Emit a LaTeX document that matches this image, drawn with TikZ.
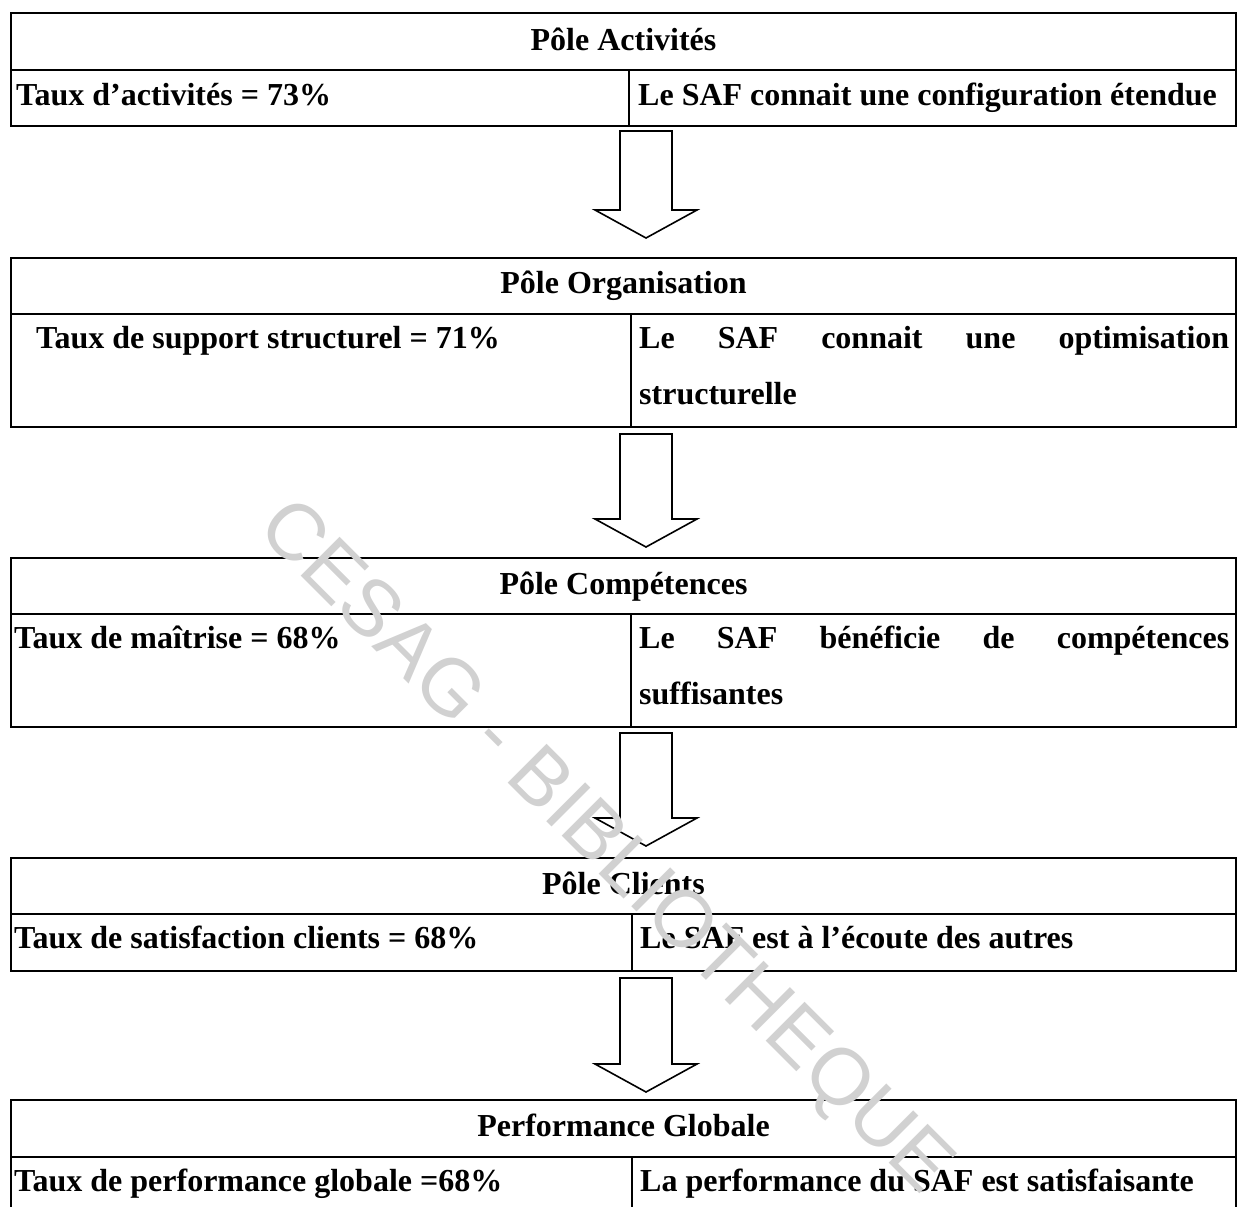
\documentclass[tikz,border=0pt]{standalone}
\usepackage{fontspec}
\setmainfont{Liberation Serif}
\newfontfamily\markfont{Liberation Sans}
\definecolor{markgray}{gray}{0.82}
\begin{document}
\begin{tikzpicture}[x=1pt,y=-1pt,
  frame/.style={line width=2.6pt},
  colsep/.style={line width=2pt},
  txt/.style={inner sep=0pt, font=\bfseries\fontsize{32}{38}\selectfont},
  cell/.style={txt, anchor=base west},
  head/.style={txt, anchor=base},
  flow/.style={draw, line width=1.6pt, line join=miter, fill=white},
  pics/blockdown/.style={code={
    \draw[flow] (-26,0) -- (26,0) -- (26,#1) -- (51,#1) -- (0,{#1+28})
      -- (-51,#1) -- (-26,#1) -- cycle;}},
]
\useasboundingbox (0,0) rectangle (1237,1207);

% ---- Pôle Activités
\draw[frame] (11,13) rectangle (1236,126);
\draw[frame] (11,70) -- (1236,70);
\draw[colsep] (629,70) -- (629,126);
\node[head] (h1) at (623.5,51) {Pôle Activités};
\node[cell] (l1) at (16,106) {Taux d’activités = 73\%};
\node[cell] (r1) at (638,106) {Le SAF connait une configuration étendue};

% ---- Pôle Organisation
\draw[frame] (11,258) rectangle (1236,427);
\draw[frame] (11,314) -- (1236,314);
\draw[colsep] (631,314) -- (631,427);
\node[head] (h2) at (623.5,293) {Pôle Organisation};
\node[cell] (l2) at (36,348) {Taux de support structurel = 71\%};
\node[cell] (r2) at (639,348) {\makebox[590pt][s]{Le SAF connait une optimisation}};
\node[cell] (r2b) at (639,404) {structurelle};

% ---- Pôle Compétences
\draw[frame] (11,558) rectangle (1236,727);
\draw[frame] (11,614) -- (1236,614);
\draw[colsep] (631,614) -- (631,727);
\node[head] (h3) at (623.5,594) {Pôle Compétences};
\node[cell] (l3) at (14,648) {Taux de maîtrise = 68\%};
\node[cell] (r3) at (639,648) {\makebox[590pt][s]{Le SAF bénéficie de compétences}};
\node[cell] (r3b) at (639,704) {suffisantes};

% ---- Pôle Clients
\draw[frame] (11,858) rectangle (1236,971);
\draw[frame] (11,914) -- (1236,914);
\draw[colsep] (632,914) -- (632,971);
\node[head] (h4) at (623.5,894) {Pôle Clients};
\node[cell] (l4) at (14,948) {Taux de satisfaction clients = 68\%};
\node[cell] (r4) at (640,948) {Le SAF est à l’écoute des autres};

% ---- Performance Globale
\draw[frame] (11,1100) rectangle (1236,1220);
\draw[frame] (11,1157) -- (1236,1157);
\draw[colsep] (632,1157) -- (632,1220);
\node[head] (h5) at (623.5,1136) {Performance Globale};
\node[cell] (l5) at (14,1191) {Taux de performance globale =68\%};
\node[cell] (r5) at (640,1191) {La performance du SAF est satisfaisante};

% ---- block arrows between the poles
\coordinate (a1) at (646,131);
\coordinate (a2) at (646,434);
\coordinate (a3) at (646,733);
\coordinate (a4) at (646,978);
\pic at (a1) {blockdown=79};
\pic at (a2) {blockdown=85};
\pic at (a3) {blockdown=85};
\pic at (a4) {blockdown=86};

% ---- library stamp
\node[rotate=-45, inner sep=0pt, text=markgray,
      font=\markfont\fontsize{80}{80}\selectfont] (stamp) at (603,849)
      {CESAG - BIBLIOTHEQUE};
\end{tikzpicture}
\end{document}
